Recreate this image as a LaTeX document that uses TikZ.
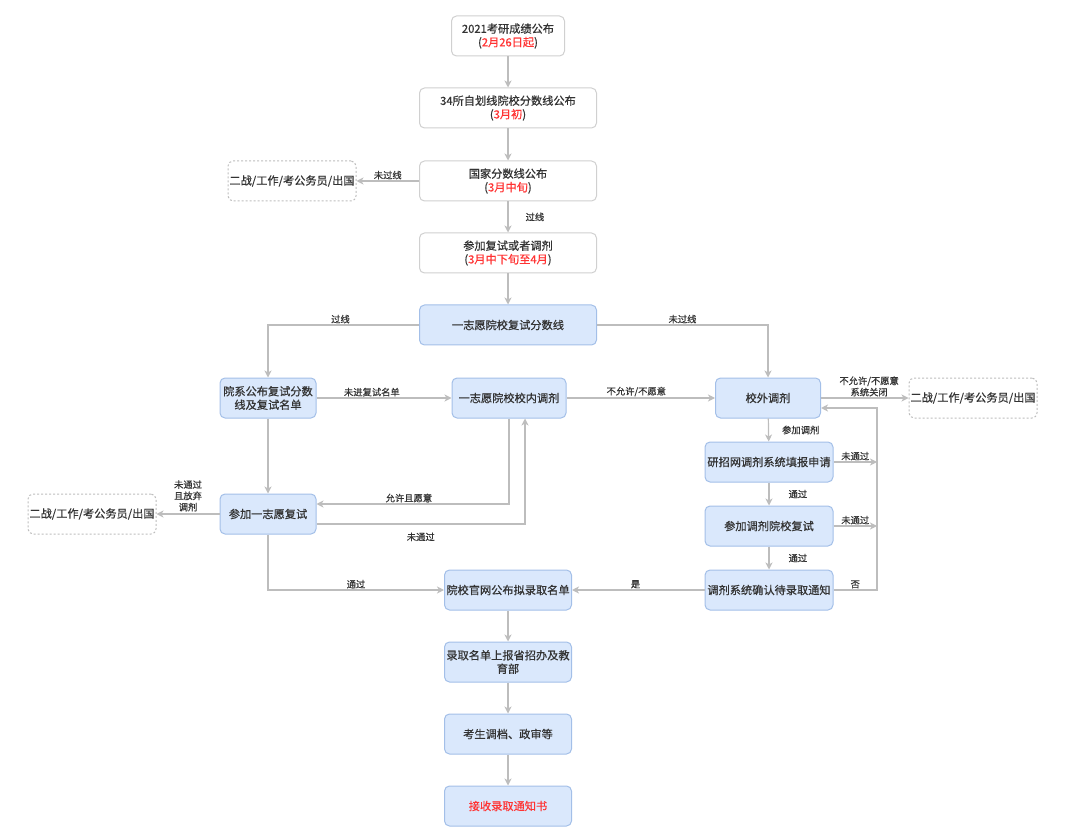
\documentclass[tikz,border=0pt]{standalone}
\usepackage{fontspec}
\setmainfont{Noto Sans CJK SC}[FakeBold=0.6]
\usetikzlibrary{arrows.meta,positioning}
\definecolor{linegray}{HTML}{BDBDBD}
\definecolor{txtgray}{HTML}{333333}
\definecolor{bluefill}{HTML}{DAE8FC}
\definecolor{blueline}{HTML}{A3BFE8}
\definecolor{boxline}{HTML}{D0D0D0}
\definecolor{hot}{HTML}{FF3333}
\newcommand{\hl}[1]{(\textcolor{hot}{#1})}

\begin{document}
\begin{tikzpicture}[x=1pt,y=-1pt,
    box/.style={rectangle,rounded corners=5pt,draw=boxline,line width=1pt,fill=white,minimum height=40pt,
        inner sep=1pt,align=center,text=txtgray,font=\fontsize{11.2}{13.5}\selectfont},
    bluebox/.style={box,draw=blueline,fill=bluefill},
    dashbox/.style={box,draw=linegray,dash pattern=on 2pt off 2pt},
    link/.style={draw=linegray,line width=1.2pt,-{Stealth[length=7pt,width=7pt,inset=2pt]}},
    lbl/.style={inner sep=1pt,align=center,text=txtgray,font=\fontsize{9.3}{11.3}\selectfont}]
\useasboundingbox (0,0) rectangle (1080,837);
% main column
\node[box,minimum width=113pt] (cj) at (508,36) {2021考研成绩公布\\\hl{2月26日起}};
\node[box,minimum width=177pt] (zhx) at (508,108) {34所自划线院校分数线公布\\\hl{3月初}};
\node[box,minimum width=177pt] (gjx) at (508,181) {国家分数线公布\\\hl{3月中旬}};
\node[box,minimum width=177pt] (fstj) at (508,253) {参加复试或者调剂\\\hl{3月中下旬至4月}};
\node[bluebox,minimum width=177pt] (yzfx) at (508,325) {一志愿院校复试分数线};
\node[bluebox,minimum width=127pt] (gwmd) at (508,590) {院校官网公布拟录取名单};
\node[bluebox,minimum width=127pt] (sbmd) at (508,662) {录取名单上报省招办及教\\育部};
\node[bluebox,minimum width=127pt] (ddzs) at (508,734) {考生调档、政审等};
\node[bluebox,minimum width=127pt,text=hot] (tzs) at (508,806) {接收录取通知书};
% left / middle
\node[dashbox,minimum width=128pt] (ezl) at (292,181) {二战/工作/考公务员/出国};
\node[bluebox,minimum width=96pt] (yxgb) at (268,398) {院系公布复试分数\\线及复试名单};
\node[bluebox,minimum width=96pt] (yzfs) at (268,514) {参加一志愿复试};
\node[dashbox,minimum width=128pt] (ezb) at (92,514) {二战/工作/考公务员/出国};
\node[bluebox,minimum width=114pt] (xntj) at (509,398) {一志愿院校校内调剂};
% right
\node[bluebox,minimum width=105pt] (xwtj) at (768,398) {校外调剂};
\node[dashbox,minimum width=128pt] (ezr) at (973,398) {二战/工作/考公务员/出国};
\node[bluebox,minimum width=128pt] (yzsq) at (769,462) {研招网调剂系统填报申请};
\node[bluebox,minimum width=128pt] (tjfs) at (769,526) {参加调剂院校复试};
\node[bluebox,minimum width=128pt] (qrtz) at (769,590) {调剂系统确认待录取通知};
\coordinate (loop) at (877,0);
\coordinate (xwin) at ([yshift=-10pt]xwtj.east);

\draw[link] (cj) -- (zhx);
\draw[link] (zhx) -- (gjx);
\draw[link] (gjx.west) -- node[lbl,above] {未过线} (ezl.east);
\draw[link] (gjx) -- node[lbl,right=16pt] {过线} (fstj);
\draw[link] (fstj) -- (yzfx);
\draw[link] (yzfx.west) -| node[lbl,pos=0.26,above] {过线} (yxgb.north);
\draw[link] (yzfx.east) -| node[lbl,pos=0.25,above] {未过线} (xwtj.north);
\draw[link] (yxgb.east) -- node[lbl,pos=0.41,above] {未进复试名单} (xntj.west);
\draw[link] (xntj.east) -- node[lbl,pos=0.47,above] {不允许/不愿意} (xwtj.west);
\draw[link] (xwtj.east) -- node[lbl,pos=0.55,above] {不允许/不愿意\\系统关闭} (ezr.west);
\draw[link] (yxgb) -- (yzfs);
\draw[link] (yzfs.west) -- node[lbl,above=1pt] {未通过\\且放弃\\调剂} (ezb.east);
\draw[link] (xntj.south) |- node[lbl,pos=0.76,above] {允许且愿意} ([yshift=10pt]yzfs.east);
\draw[link] ([yshift=-10pt]yzfs.east) -| node[lbl,pos=0.25,below=7pt] {未通过} ([xshift=16pt]xntj.south);
\draw[link] (yzfs.south) |- node[lbl,pos=0.75,above] {通过} (gwmd.west);
\draw[link] (xwtj) -- node[lbl,right=12pt] {参加调剂} (yzsq);
\draw[link] (yzsq) -- node[lbl,right=18pt] {通过} (tjfs);
\draw[link] (tjfs) -- node[lbl,right=18pt] {通过} (qrtz);
\draw[link] (yzsq.east) -- node[lbl,above] {未通过} (yzsq.east -| loop);
\draw[link] (tjfs.east) -- node[lbl,above] {未通过} (tjfs.east -| loop);
\draw[link] (qrtz.west) -- node[lbl,pos=0.52,above] {是} (gwmd.east);
\draw[link] (qrtz.east) -- node[lbl,above] {否} (qrtz.east -| loop) -- (loop |- xwin) -- (xwin);
\draw[link] (gwmd) -- (sbmd);
\draw[link] (sbmd) -- (ddzs);
\draw[link] (ddzs) -- (tzs);
\end{tikzpicture}
\end{document}
